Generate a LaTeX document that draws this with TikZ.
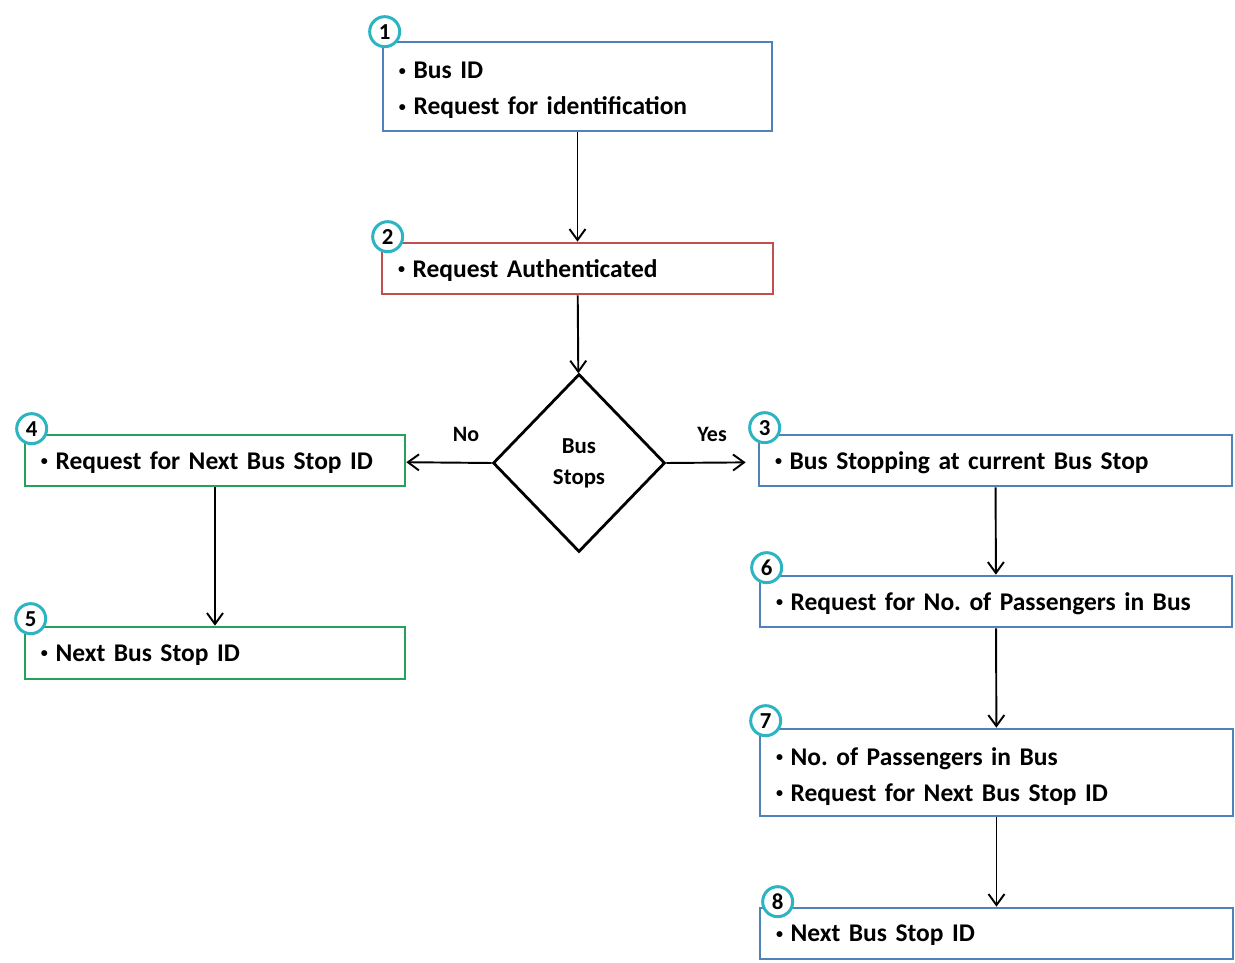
\documentclass[tikz,border=0pt]{standalone}
\usepackage{fontspec}
\setmainfont{Carlito}
\frenchspacing
\usetikzlibrary{arrows.meta,shapes.geometric,positioning}
\definecolor{boxblue}{RGB}{79,129,189}
\definecolor{boxred}{RGB}{192,80,77}
\definecolor{boxgreen}{RGB}{38,160,90}
\definecolor{numcyan}{RGB}{45,180,195}
\newcommand{\bul}{\raisebox{0.3ex}{\fontsize{8}{8}\selectfont\textbullet}\hspace{0.3em}}
\tikzset{card/.style={draw,rectangle,line width=1.5pt,align=left,inner xsep=0.32cm,inner ysep=0pt,text depth=0pt,font=\fontsize{14.5}{20.5}\selectfont\bfseries},
         twoline/.style={text depth=18.2pt},
         num/.style={draw=numcyan,circle,line width=1.7pt,fill=white,minimum size=0.6cm,inner sep=0pt,font=\fontsize{13}{13}\selectfont\bfseries},
         flow/.style={line width=1.1pt,-{Straight Barb[length=2.2mm,width=3.2mm]}},
         answer/.style={inner sep=0pt,font=\fontsize{12.5}{12.5}\selectfont\bfseries}}

\begin{document}
\begin{tikzpicture}[x=0.2mm,y=-0.2mm]
    \useasboundingbox (0,0) rectangle (1235,963);

    \node (b1) [card,twoline,draw=boxblue,text width=7.14cm,minimum height=1.78cm] at (577.5,86.5) {\bul Bus ID\\\bul Request for identification};
    \node (b2) [card,draw=boxred,text width=7.18cm,minimum height=1.02cm]  at (577.5,268.5) {\bul Request Authenticated};
    \node (d)  [draw,diamond,line width=1.6pt,minimum width=3.44cm,minimum height=3.56cm,inner sep=0pt,align=center,font=\fontsize{13}{17.6}\selectfont\bfseries] at (579,463) {Bus\\Stops};
    \node (b4) [card,draw=boxgreen,text width=6.96cm,minimum height=1.02cm] at (215,460.5) {\bul Request for Next Bus Stop ID};
    \node (b5) [card,draw=boxgreen,text width=6.96cm,minimum height=1.04cm] at (215,653) {\bul Next Bus Stop ID};
    \node (b3) [card,draw=boxblue,text width=8.82cm,minimum height=1.02cm]  at (995.5,460.5) {\bul Bus Stopping at current Bus Stop};
    \node (b6) [card,draw=boxblue,text width=8.80cm,minimum height=1.02cm]  at (996,601.5) {\bul Request for No. of Passengers in Bus};
    \node (b7) [card,twoline,draw=boxblue,text width=8.82cm,minimum height=1.74cm]  at (996.5,772.5) {\bul No. of Passengers in Bus\\\bul Request for Next Bus Stop ID};
    \node (b8) [card,draw=boxblue,text width=8.82cm,minimum height=1.02cm]  at (996.5,933.5) {\bul Next Bus Stop ID};

    \node (n1) [num] at ([shift={(3,-9)}]b1.north west) {1};
    \node (n2) [num] at ([shift={(7,-5)}]b2.north west) {2};
    \node (n3) [num] at ([shift={(7,-6)}]b3.north west) {3};
    \node (n4) [num] at ([shift={(8,-5)}]b4.north west) {4};
    \node (n5) [num] at ([shift={(7,-7)}]b5.north west) {5};
    \node (n6) [num] at ([shift={(8,-7)}]b6.north west) {6};
    \node (n7) [num] at ([shift={(7,-7)}]b7.north west) {7};
    \node (n8) [num] at ([shift={(19,-5)}]b8.north west) {8};

    \draw[flow] (b1) -- (b2);
    \draw[flow] (b2) -- (d);
    \draw[flow] (d.west) -- node[answer,above=0.4cm,pos=0.3] (no) {No} (b4);
    \draw[flow,shorten >=0.24cm] (d.east) -- node[answer,above=0.4cm,pos=0.5] (yes) {Yes} (b3);
    \draw[flow] (b4) -- (b5);
    \draw[flow] (b3) -- (b6);
    \draw[flow] (b6) -- (b7);
    \draw[flow] (b7) -- (b8);
\end{tikzpicture}
\end{document}
